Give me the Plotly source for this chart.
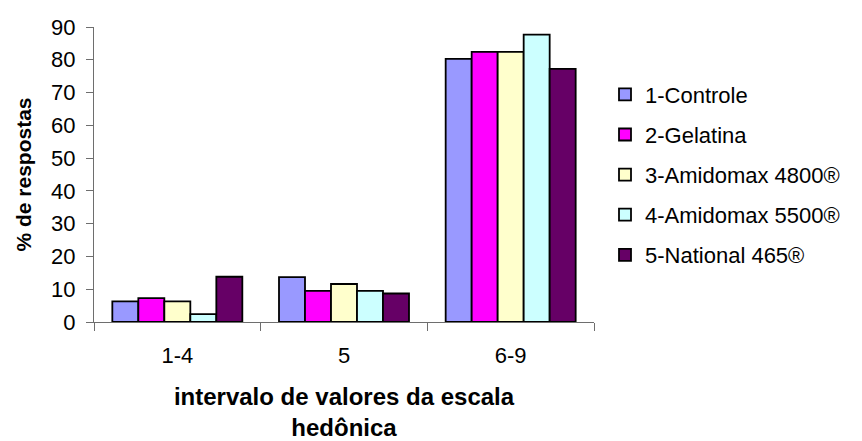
import plotly.graph_objects as go

# Hedonic-scale intervals on the x axis
categories = ["1-4", "5", "6-9"]

# Percentage of responses per formulation
controle = [6.3, 13.7, 80.3]
gelatina = [7.3, 9.5, 82.4]
amidomax_4800 = [6.3, 11.6, 82.4]
amidomax_5500 = [2.4, 9.5, 87.7]
national_465 = [13.8, 8.7, 77.2]

series_names = [
    "1-Controle",
    "2-Gelatina",
    "3-Amidomax 4800®",
    "4-Amidomax 5500®",
    "5-National 465®",
]
series_values = [controle, gelatina, amidomax_4800, amidomax_5500, national_465]
series_colors = ["#9999FF", "#FF00FF", "#FFFFCC", "#CCFFFF", "#660066"]

FONT = "Liberation Sans, Arial, sans-serif"
AXIS_GREY = "#6e6e6e"

fig = go.Figure()
for name, vals, color in zip(series_names, series_values, series_colors):
    fig.add_trace(
        go.Bar(
            x=categories,
            y=vals,
            name=name,
            legendgroup=name,
            marker=dict(color=color, line=dict(color="#000000", width=1.8)),
        )
    )

fig.update_layout(
    width=862,
    height=441,
    margin=dict(l=94, r=268, t=27, b=119, autoexpand=False),
    paper_bgcolor="white",
    plot_bgcolor="white",
    barmode="group",
    bargap=0.22,
    bargroupgap=0,
    font=dict(family=FONT, size=22, color="#000000"),
    showlegend=True,
    legend=dict(
        x=1.022,
        xanchor="left",
        y=0.842,
        yanchor="top",
        font=dict(family=FONT, size=22, color="#000000"),
        tracegroupgap=8.5,
        bgcolor="rgba(0,0,0,0)",
        itemclick=False,
    ),
)

fig.update_xaxes(
    type="category",
    automargin=True,
    showline=True,
    linecolor=AXIS_GREY,
    linewidth=1,
    ticks="outside",
    tickson="boundaries",
    ticklen=8,
    tickcolor=AXIS_GREY,
    tickfont=dict(family=FONT, size=22),
    ticklabelstandoff=14,
    showgrid=False,
    zeroline=False,
    title=dict(
        text="<b>intervalo de valores da escala<br>hedônica</b>",
        font=dict(family=FONT, size=24),
        standoff=23,
    ),
)

fig.update_yaxes(
    range=[0, 90],
    dtick=10,
    automargin=True,
    showline=True,
    linecolor=AXIS_GREY,
    linewidth=1,
    ticks="outside",
    ticklen=7,
    tickcolor=AXIS_GREY,
    tickfont=dict(family=FONT, size=22),
    ticklabelstandoff=6,
    showgrid=False,
    zeroline=False,
    title=dict(
        text="<b>% de respostas</b>",
        font=dict(family=FONT, size=21),
        standoff=13,
    ),
)

fig.write_html("out.html")
